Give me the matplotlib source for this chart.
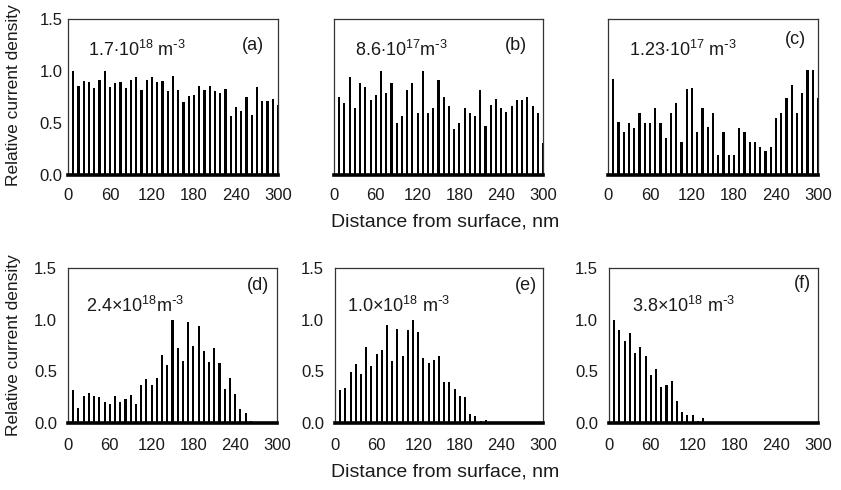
import matplotlib
matplotlib.use("Agg")
import matplotlib.pyplot as plt

plt.rcParams["font.family"] = ["Liberation Sans", "DejaVu Sans"]
plt.rcParams["mathtext.default"] = "regular"

# ── Data ────────────────────────────────────────────────────────────────────
distance = [7.5, 15, 22.5, 30, 37.5, 45, 52.5, 60, 67.5, 75,
            82.5, 90, 97.5, 105, 112.5, 120, 127.5, 135, 142.5, 150,
            157.5, 165, 172.5, 180, 187.5, 195, 202.5, 210, 217.5, 225,
            232.5, 240, 247.5, 255, 262.5, 270, 277.5, 285, 292.5, 300]

current_a = [1.00, 0.86, 0.90, 0.89, 0.84, 0.91, 1.00, 0.85, 0.88, 0.89,
             0.84, 0.91, 0.94, 0.82, 0.91, 0.94, 0.89, 0.90, 0.81, 0.95,
             0.82, 0.70, 0.76, 0.77, 0.86, 0.82, 0.86, 0.81, 0.79, 0.83,
             0.57, 0.65, 0.62, 0.75, 0.58, 0.85, 0.71, 0.71, 0.73, 0.67]
current_b = [0.75, 0.69, 0.94, 0.64, 0.88, 0.85, 0.72, 0.77, 1.00, 0.79,
             0.88, 0.50, 0.57, 0.82, 0.88, 0.60, 1.00, 0.60, 0.64, 0.91,
             0.75, 0.66, 0.44, 0.50, 0.64, 0.60, 0.57, 0.82, 0.47, 0.67,
             0.73, 0.64, 0.61, 0.66, 0.72, 0.72, 0.75, 0.66, 0.60, 0.31]
current_c = [0.92, 0.51, 0.41, 0.50, 0.45, 0.60, 0.50, 0.50, 0.64, 0.50,
             0.36, 0.60, 0.69, 0.32, 0.83, 0.84, 0.41, 0.64, 0.46, 0.60,
             0.19, 0.41, 0.19, 0.19, 0.45, 0.41, 0.32, 0.32, 0.27, 0.23,
             0.27, 0.55, 0.60, 0.74, 0.87, 0.60, 0.79, 1.01, 1.01, 0.74]
current_d = [0.32, 0.15, 0.26, 0.29, 0.26, 0.25, 0.20, 0.18, 0.26, 0.20,
             0.23, 0.27, 0.18, 0.37, 0.43, 0.37, 0.44, 0.66, 0.56, 1.00,
             0.73, 0.60, 0.98, 0.75, 0.94, 0.70, 0.59, 0.73, 0.58, 0.33,
             0.44, 0.28, 0.14, 0.10, 0.02, 0.01, 0.0, 0.0, 0.0, 0.0]
current_e = [0.32, 0.34, 0.49, 0.57, 0.47, 0.74, 0.55, 0.67, 0.71, 0.95,
             0.60, 0.91, 0.65, 0.90, 1.00, 0.88, 0.63, 0.58, 0.61, 0.65,
             0.40, 0.40, 0.33, 0.26, 0.25, 0.09, 0.07, 0.02, 0.03, 0.0,
             0.0, 0.0, 0.0, 0.0, 0.0, 0.0, 0.0, 0.0, 0.0, 0.0]
current_f = [1.00, 0.90, 0.79, 0.87, 0.68, 0.74, 0.65, 0.46, 0.52, 0.35,
             0.37, 0.41, 0.21, 0.11, 0.08, 0.08, 0.02, 0.05, 0.0, 0.0,
             0.0, 0.0, 0.0, 0.0, 0.0, 0.0, 0.0, 0.0, 0.0, 0.0,
             0.0, 0.0, 0.0, 0.0, 0.0, 0.0, 0.0, 0.0, 0.0, 0.0]

concentrations = [
    r"1.7∙10$^{18}$ m$^{\text{-}3}$", r"8.6∙10$^{17}$m$^{\text{-}3}$",
    r"1.23∙10$^{17}$ m$^{\text{-}3}$", r"2.4×10$^{18}$m$^{\text{-}3}$",
    r"1.0×10$^{18}$ m$^{\text{-}3}$", r"3.8×10$^{18}$ m$^{\text{-}3}$",
]
panel_tags = ["(a)", "(b)", "(c)", "(d)", "(e)", "(f)"]
x_ticks = [0, 60, 120, 180, 240, 300]
y_ticks = [0.0, 0.5, 1.0, 1.5]

# ── Layout (pixel boxes: left, right, top, bottom) ──────────────────────────
W, H = 841, 490
boxes = [
    (68, 278, 19, 175), (334, 543, 19, 175), (608, 818, 19, 175),
    (68, 277, 268, 423), (335, 543, 268, 423), (609, 818, 268, 423),
]
# (text x, text y, tag x, tag y) in data coords
label_pos = [
    (28, 1.20, 248, 1.25), (30, 1.20, 245, 1.25), (30, 1.20, 253, 1.30),
    (26, 1.13, 257, 1.33), (17, 1.13, 259, 1.33), (33, 1.13, 266, 1.35),
]

series = [current_a, current_b, current_c, current_d, current_e, current_f]

fig = plt.figure(figsize=(W / 100, H / 100), dpi=100)
TXT = "#1a1a1a"

for i, (vals, box) in enumerate(zip(series, boxes)):
    l, r, t, b = box
    ax = fig.add_axes([l / W, 1 - b / H, (r - l) / W, (b - t) / H])
    ax.bar(distance, vals, width=3.0, color="black", zorder=2)
    ax.set_xlim(0, 300)
    ax.set_ylim(0, 1.5)
    ax.set_xticks(x_ticks)
    ax.set_yticks(y_ticks)
    ax.set_yticklabels([f"{v:.1f}" for v in y_ticks])
    top_row = i < 3
    if top_row and i > 0:
        ax.set_yticklabels([])
    ax.tick_params(length=0, labelsize=12, colors=TXT)
    ax.tick_params(axis="x", pad=9 if top_row else 11)
    ax.tick_params(axis="y", pad=4 if top_row else 8)
    for s in ["top", "left", "right"]:
        ax.spines[s].set_color("#333333")
        ax.spines[s].set_linewidth(0.9)
    ax.spines["bottom"].set_color("black")
    ax.spines["bottom"].set_linewidth(2.6)

    tx, ty, gx, gy = label_pos[i]
    ax.text(tx, ty, concentrations[i], fontsize=13, color=TXT,
            va="center", ha="left")
    ax.text(gx, gy, panel_tags[i], fontsize=13, color=TXT,
            va="center", ha="left")

# shared axis titles, one per row
for y_ax, y_x in [(95, 222), (345, 472)]:
    fig.text(14 / W, 1 - y_ax / H, "Relative current density", fontsize=12.5,
             color=TXT, rotation=90, ha="center", va="center")
    fig.text(445 / W, 1 - y_x / H, "Distance from surface, nm", fontsize=14,
             color=TXT, ha="center", va="center")

fig.savefig("out.png", dpi=100)
